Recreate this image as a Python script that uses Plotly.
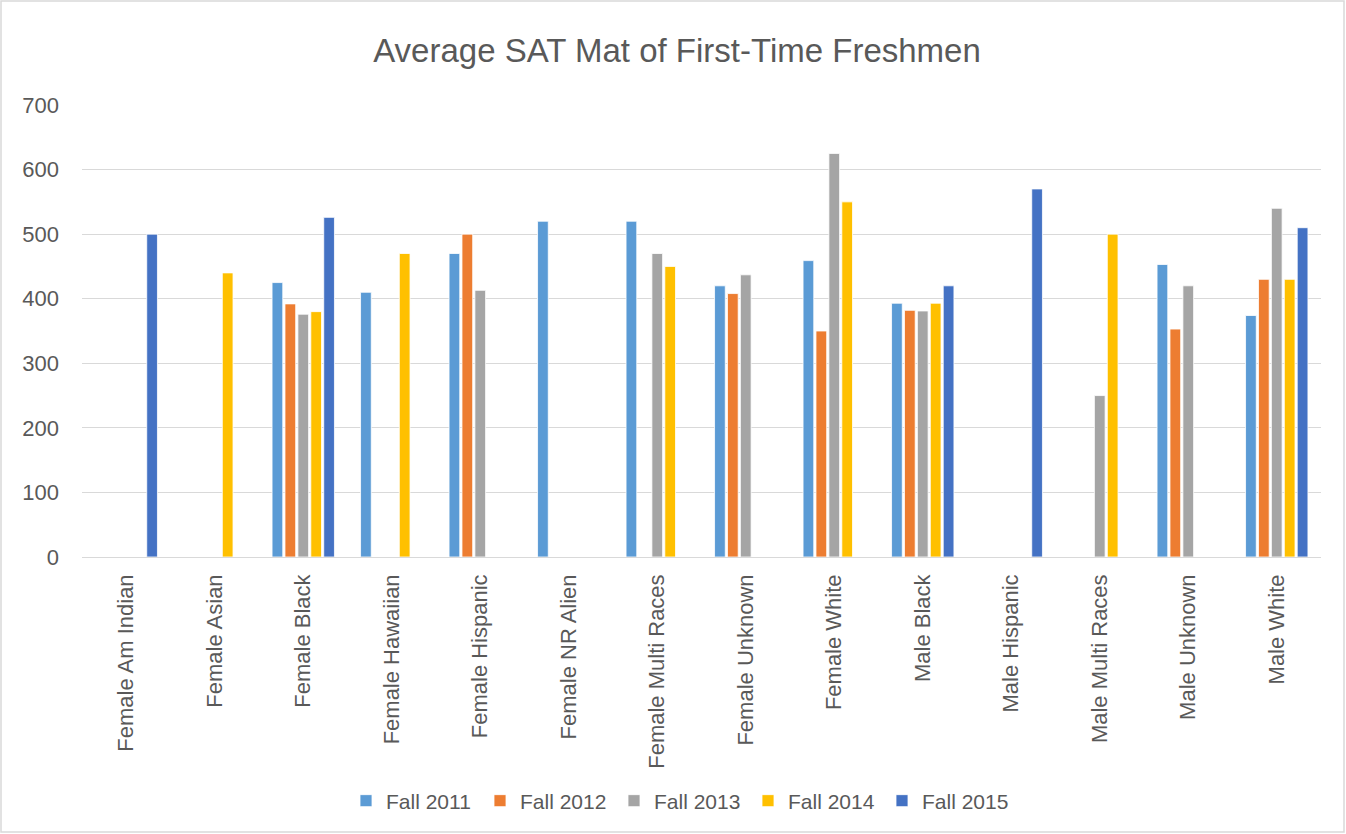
import plotly.graph_objects as go

categories = ["Female Am Indian", "Female Asian", "Female Black", "Female Hawaiian",
              "Female Hispanic", "Female NR Alien", "Female Multi Races", "Female Unknown",
              "Female White", "Male Black", "Male Hispanic", "Male Multi Races",
              "Male Unknown", "Male White"]

fall_2011 = [None, None, 425, 410, 470, 520, 520, 420, 459, 393, None, None, 453, 374]
fall_2012 = [None, None, 392, None, 500, None, None, 408, 350, 382, None, None, 353, 430]
fall_2013 = [None, None, 376, None, 413, None, 470, 437, 625, 381, None, 250, 420, 540]
fall_2014 = [None, 440, 380, 470, None, None, 450, None, 550, 393, None, 500, None, 430]
fall_2015 = [500, None, 526, None, None, None, None, None, None, 420, 570, None, None, 510]

series = [
    ("Fall 2011", fall_2011, "#5B9BD5"),
    ("Fall 2012", fall_2012, "#ED7D31"),
    ("Fall 2013", fall_2013, "#A5A5A5"),
    ("Fall 2014", fall_2014, "#FFC000"),
    ("Fall 2015", fall_2015, "#4472C4"),
]

W, H = 1346, 834
ML, MR, MT, MB = 82, 25, 105, 277
font_family = "Liberation Sans, Arial, sans-serif"
text_color = "#595959"

fig = go.Figure()
for name, vals, color in series:
    fig.add_trace(go.Bar(
        x=categories, y=vals, name=name,
        marker=dict(color=color, line=dict(color="white", width=0.8)),
    ))

pw = W - ML - MR
ph = H - MT - MB

fig.update_layout(
    width=W, height=H,
    margin=dict(l=ML, r=MR, t=MT, b=MB, autoexpand=False),
    paper_bgcolor="white", plot_bgcolor="white",
    barmode="group", bargap=0.27, bargroupgap=0.17,
    font=dict(family=font_family, color=text_color, size=20),
    title=dict(text="Average SAT Mat of First-Time Freshmen",
               x=677 / W, xanchor="center", y=1 - 50 / H, yanchor="middle",
               font=dict(size=33, color=text_color, family=font_family)),
    xaxis=dict(tickangle=-90, tickfont=dict(size=22, color=text_color),
               showgrid=False, showline=False, ticks="", ticklen=0,
               ticklabelstandoff=12),
    yaxis=dict(range=[0, 700], dtick=100, showgrid=True, gridcolor="#D9D9D9",
               gridwidth=1.3, zeroline=True, zerolinecolor="#D9D9D9", zerolinewidth=1.3,
               tickfont=dict(size=22, color=text_color), ticks="", showline=False,
               ticklabelstandoff=22),
    legend=dict(orientation="h", x=(681 - ML) / pw, xanchor="center",
                y=-(801 - (H - MB)) / ph, yanchor="middle",
                font=dict(size=21, color=text_color), traceorder="normal",
                itemwidth=30, entrywidth=89, entrywidthmode="pixels"),
    shapes=[dict(type="rect", xref="paper", yref="paper",
                 x0=-(ML - 1) / pw, x1=1 + (MR - 2) / pw,
                 y0=-(MB - 2) / ph, y1=1 + (MT - 1) / ph,
                 line=dict(color="#D9D9D9", width=1.5), fillcolor="rgba(0,0,0,0)",
                 layer="below")],
)

fig.write_html("out.html", config={"displayModeBar": False},
               post_script="document.body.style.margin='0';document.body.style.overflow='hidden';")
